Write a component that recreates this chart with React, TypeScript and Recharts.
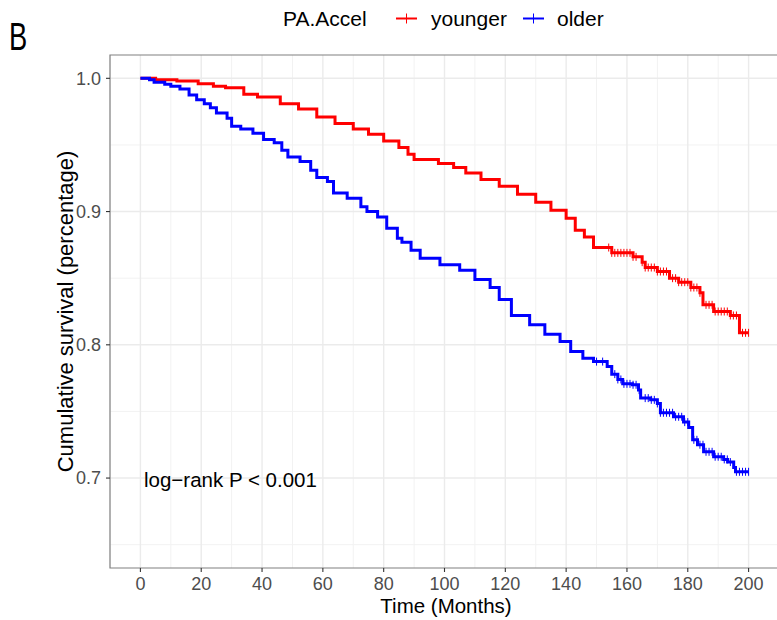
import React from "react";
import {
  ComposedChart, Line, Scatter, XAxis, YAxis, CartesianGrid, ReferenceArea,
} from "recharts";

// Kaplan-Meier steps: time (months) and survival
const YOUNGER_T = [0, 5, 12, 19, 24, 28, 34, 38.5, 46, 52, 58, 64, 70, 75, 80, 85, 88, 90, 98, 103, 107, 112, 118, 124, 130, 135, 140, 143, 146, 149, 155, 162, 165, 166, 170, 174, 177, 181, 184, 185, 188.5, 194, 197, 200];
const YOUNGER_S = [1.0, 0.999, 0.998, 0.996, 0.994, 0.993, 0.988, 0.986, 0.981, 0.977, 0.971, 0.966, 0.962, 0.958, 0.953, 0.948, 0.943, 0.939, 0.936, 0.933, 0.929, 0.924, 0.919, 0.913, 0.907, 0.901, 0.895, 0.886, 0.881, 0.873, 0.869, 0.866, 0.862, 0.858, 0.855, 0.85, 0.847, 0.843, 0.839, 0.83, 0.825, 0.822, 0.809, 0.809];

const OLDER_T = [0, 3, 4.5, 8, 10, 13, 16, 18.5, 21, 23, 25, 28.5, 30, 33, 37, 40.5, 44, 46.5, 48.5, 52.5, 56, 58, 61.5, 63.5, 68, 72.5, 74.5, 78, 81, 84.5, 86, 89, 92, 98.5, 105, 110, 115, 118, 122, 128, 133, 138, 141.5, 145.5, 149, 153.5, 155, 157, 158.6, 161.8, 163.8, 164.5, 167.8, 170, 171, 175.3, 178.6, 180.3, 181.6, 183.2, 185.2, 188.5, 191.8, 193.1, 195.1, 195.7, 200];
const OLDER_S = [1.0, 0.999, 0.997, 0.9955, 0.994, 0.992, 0.9875, 0.984, 0.981, 0.978, 0.974, 0.97, 0.964, 0.962, 0.9587, 0.954, 0.9517, 0.946, 0.941, 0.9375, 0.931, 0.9255, 0.9225, 0.914, 0.91, 0.9037, 0.9, 0.896, 0.8875, 0.88, 0.877, 0.871, 0.865, 0.86, 0.856, 0.849, 0.843, 0.834, 0.822, 0.815, 0.808, 0.8025, 0.795, 0.79, 0.7874, 0.7837, 0.778, 0.774, 0.7707, 0.77, 0.766, 0.76, 0.7587, 0.756, 0.749, 0.746, 0.742, 0.738, 0.7287, 0.725, 0.7197, 0.716, 0.714, 0.712, 0.708, 0.7047, 0.7047];

// censoring times (the "+" marks)
const YOUNGER_CENSOR = [154, 155, 156, 157, 158, 159, 160, 161, 162, 163, 165, 166, 167, 168, 169, 170, 171, 172, 173, 175, 176, 177, 178, 179, 180, 181, 182, 183, 184, 186, 187, 188, 189, 190, 191, 192, 193, 194, 195, 196, 198, 199, 200];
const OLDER_CENSOR = [150, 152, 156, 157, 158, 159, 160, 161, 162, 163, 164, 166, 167, 168, 169, 170, 171, 172, 173, 174, 175, 176, 177, 178, 179, 180, 182, 183, 184, 185, 186, 187, 188, 189, 190, 191, 192, 193, 194, 196, 197, 198, 199, 200];

const X_TICKS = [0, 20, 40, 60, 80, 100, 120, 140, 160, 180, 200];
const X_MINOR = [-10, 10, 30, 50, 70, 90, 110, 130, 150, 170, 190, 210];
const Y_TICKS = [0.7, 0.8, 0.9, 1.0];
const Y_MINOR = [0.65, 0.75, 0.85, 0.95];

const X_DOMAIN: [number, number] = [-10, 210];
const Y_DOMAIN: [number, number] = [0.6325, 1.0175];

const RED = "#ff0000";
const BLUE = "#0000ff";
const FONT = '"Liberation Sans", Arial, Helvetica, sans-serif';

const toSteps = (ts: number[], ss: number[]) => ts.map((t, i) => ({ t, s: ss[i] }));

const survAt = (ts: number[], ss: number[], t: number) => {
  let s = ss[0];
  ts.forEach((v, i) => { if (v <= t) s = ss[i]; });
  return s;
};

const younger = toSteps(YOUNGER_T, YOUNGER_S);
const older = toSteps(OLDER_T, OLDER_S);
const youngerCensor = YOUNGER_CENSOR.map(t => ({ t, s: survAt(YOUNGER_T, YOUNGER_S, t) }));
const olderCensor = OLDER_CENSOR.map(t => ({ t, s: survAt(OLDER_T, OLDER_S, t) }));

const xGen = (vals: number[]) => ({ offset }: any) =>
  vals.map(v => offset.left + ((v - X_DOMAIN[0]) / (X_DOMAIN[1] - X_DOMAIN[0])) * offset.width);
const yGen = (vals: number[]) => ({ offset }: any) =>
  vals.map(v => offset.top + ((Y_DOMAIN[1] - v) / (Y_DOMAIN[1] - Y_DOMAIN[0])) * offset.height);

const CensorMark = (color: string) => (props: any) => {
  const { cx = 0, cy = 0 } = props;
  return <line x1={cx} x2={cx} y1={cy - 4} y2={cy + 4} stroke={color} strokeWidth={1} />;
};

export default function App() {
  return (
    <div style={{ position: "absolute", left: 0, top: 0, width: 777, height: 620, overflow: "hidden", background: "#fff", fontFamily: FONT }}>
      <ComposedChart width={790} height={620} margin={{ top: 55, right: 11, bottom: 0, left: 0 }}>
        <CartesianGrid
          stroke="#f2f2f2" strokeWidth={1}
          verticalCoordinatesGenerator={xGen(X_MINOR)}
          horizontalCoordinatesGenerator={yGen(Y_MINOR)}
        />
        <CartesianGrid
          stroke="#ebebeb" strokeWidth={1.4}
          verticalCoordinatesGenerator={xGen(X_TICKS)}
          horizontalCoordinatesGenerator={yGen(Y_TICKS)}
        />
        <XAxis
          dataKey="t" type="number" domain={X_DOMAIN} ticks={X_TICKS} allowDataOverflow
          height={52} tickSize={4} tickMargin={5} axisLine={false}
          tickLine={{ stroke: "#333", strokeWidth: 1.1 }}
          tick={{ fill: "#4d4d4d", fontSize: 18, fontFamily: FONT }}
        />
        <YAxis
          type="number" domain={Y_DOMAIN} ticks={Y_TICKS} allowDataOverflow
          width={110} tickSize={4} tickMargin={5} axisLine={false}
          tickFormatter={(v: number) => v.toFixed(1)}
          tickLine={{ stroke: "#333", strokeWidth: 1.1 }}
          tick={{ fill: "#4d4d4d", fontSize: 18, fontFamily: FONT }}
        />
        <Line data={younger} dataKey="s" type="stepAfter" stroke={RED} strokeWidth={3} dot={false} isAnimationActive={false} />
        <Scatter data={youngerCensor} dataKey="s" shape={CensorMark(RED)} isAnimationActive={false} />
        <Line data={older} dataKey="s" type="stepAfter" stroke={BLUE} strokeWidth={3} dot={false} isAnimationActive={false} />
        <Scatter data={olderCensor} dataKey="s" shape={CensorMark(BLUE)} isAnimationActive={false} />
        <ReferenceArea
          x1={X_DOMAIN[0]} x2={X_DOMAIN[1]} y1={Y_DOMAIN[0]} y2={Y_DOMAIN[1]}
          fill="none" stroke="#808080" strokeWidth={1.2} ifOverflow="visible"
        />
      </ComposedChart>

      <svg width={777} height={620} style={{ position: "absolute", left: 0, top: 0, pointerEvents: "none" }} fontFamily={FONT}>
        <text transform="translate(9,50) scale(0.72,1)" fontSize={38} fill="#000">B</text>

        {/* legend */}
        <text x={283} y={26} fontSize={21} fill="#000">PA.Accel</text>
        <line x1={396} x2={417} y1={18.5} y2={18.5} stroke={RED} strokeWidth={2} />
        <line x1={406.5} x2={406.5} y1={13.5} y2={23.5} stroke={RED} strokeWidth={1} />
        <text x={431} y={26} fontSize={21} fill="#000">younger</text>
        <line x1={523} x2={544} y1={18.5} y2={18.5} stroke={BLUE} strokeWidth={2} />
        <line x1={533.5} x2={533.5} y1={13.5} y2={23.5} stroke={BLUE} strokeWidth={1} />
        <text x={557} y={26} fontSize={21} fill="#000">older</text>

        <text x={144} y={487} fontSize={20.5} fill="#000">log−rank P &lt; 0.001</text>

        <text x={446} y={613} fontSize={20.5} fill="#000" textAnchor="middle">Time (Months)</text>
        <text transform="translate(73,311.5) rotate(-90)" fontSize={22} fill="#000" textAnchor="middle">
          Cumulative survival (percentage)
        </text>
      </svg>
    </div>
  );
}
